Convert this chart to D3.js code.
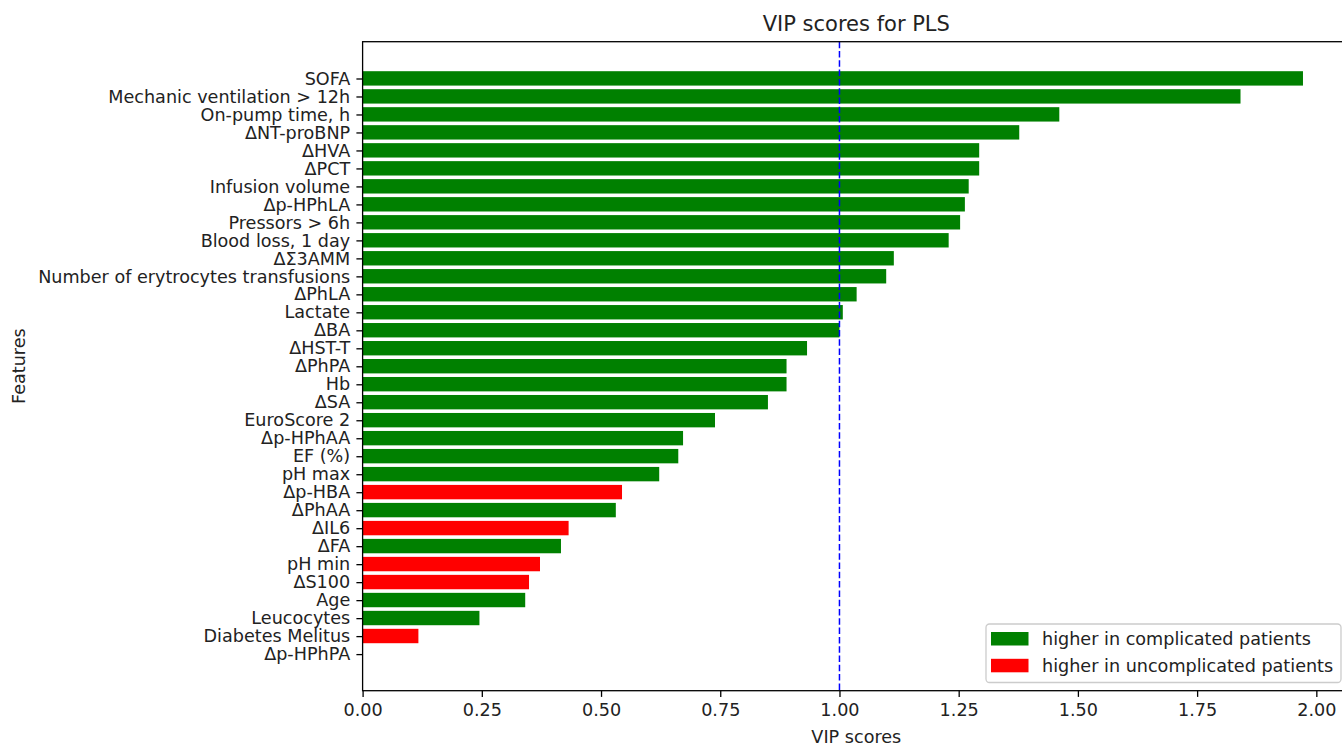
<!DOCTYPE html>
<html>
<head>
<meta charset="utf-8">
<script src="https://cdn.jsdelivr.net/npm/d3@7"></script>
<style>
  html, body { margin: 0; padding: 0; background: #fff; }
  svg { display: block; font-family: "DejaVu Sans", sans-serif; }
</style>
</head>
<body>
<svg id="chart" width="1342" height="745"></svg>
<script>
// ---- data (top to bottom as shown) ----
const features = [
  "SOFA", "Mechanic ventilation > 12h", "On-pump time, h", "ΔNT-proBNP", "ΔHVA", "ΔPCT",
  "Infusion volume", "Δp-HPhLA", "Pressors > 6h", "Blood loss, 1 day", "ΔΣ3AMM",
  "Number of erytrocytes transfusions", "ΔPhLA", "Lactate", "ΔBA", "ΔHST-T", "ΔPhPA", "Hb",
  "ΔSA", "EuroScore 2", "Δp-HPhAA", "EF (%)", "pH max", "Δp-HBA", "ΔPhAA", "ΔIL6", "ΔFA",
  "pH min", "ΔS100", "Age", "Leucocytes", "Diabetes Melitus", "Δp-HPhPA"
];
const vipScores = [
  1.972, 1.841, 1.461, 1.377, 1.293, 1.293,
  1.271, 1.263, 1.253, 1.229, 1.114,
  1.098, 1.036, 1.007, 1.000, 0.932, 0.889, 0.889,
  0.850, 0.739, 0.672, 0.662, 0.622, 0.544, 0.531, 0.432, 0.416,
  0.372, 0.349, 0.341, 0.245, 0.117, 0.0
];
// "C" = higher in complicated patients, "U" = higher in uncomplicated patients
const direction = [
  "C", "C", "C", "C", "C", "C",
  "C", "C", "C", "C", "C",
  "C", "C", "C", "C", "C", "C", "C",
  "C", "C", "C", "C", "C", "U", "C", "U", "C",
  "U", "U", "C", "C", "U", "C"
];
const xTicks = [0, 0.25, 0.5, 0.75, 1.0, 1.25, 1.5, 1.75, 2.0];
const threshold = 1.0;
const legendLabels = ["higher in complicated patients", "higher in uncomplicated patients"];
const legendKeys = ["C", "U"];
const titleText = "VIP scores for PLS";
const xLabelText = "VIP scores";
const yLabelText = "Features";

// ---- layout ----
const colors = { C: "#008000", U: "#ff0000" };
const axL = 362.6, axT = 41.7, axB = 690.7, axR = 1350;
const fs = 17.6;
const textColor = "#222";

const svg = d3.select("#chart");

const x = d3.scaleLinear()
  .domain([0, d3.max(vipScores) * 1.05])
  .range([axL, axR]);

const y = d3.scaleBand()
  .domain(features)
  .range([axT, axB])
  .paddingInner(0.2)
  .paddingOuter(1.64)
  .align(0.5);

// bars
svg.append("g")
  .selectAll("rect")
  .data(features)
  .join("rect")
  .attr("x", x(0))
  .attr("y", d => y(d))
  .attr("width", (d, i) => x(vipScores[i]) - x(0))
  .attr("height", y.bandwidth())
  .attr("fill", (d, i) => colors[direction[i]]);

// threshold line
svg.append("line")
  .attr("x1", x(threshold)).attr("x2", x(threshold))
  .attr("y1", axT).attr("y2", axB)
  .attr("stroke", "#0000ff")
  .attr("stroke-width", 1.5)
  .attr("stroke-dasharray", "6.5,2.8");

// frame
svg.append("rect")
  .attr("x", axL).attr("y", axT)
  .attr("width", axR - axL).attr("height", axB - axT)
  .attr("fill", "none")
  .attr("stroke", "#000")
  .attr("stroke-width", 1.3);

// axes
const yAxis = d3.axisLeft(y).tickSize(6.2).tickPadding(6.2);
const gy = svg.append("g").attr("transform", `translate(${axL},0.6)`).call(yAxis);
gy.select(".domain").remove();
gy.selectAll(".tick line").attr("stroke", "#000").attr("stroke-width", 1.3);
gy.selectAll(".tick text").attr("font-size", fs).attr("fill", textColor)
  .attr("font-family", "DejaVu Sans, sans-serif");

const xAxis = d3.axisBottom(x).tickValues(xTicks).tickFormat(d3.format(".2f"))
  .tickSize(6.2).tickPadding(6.2);
const gx = svg.append("g").attr("transform", `translate(0,${axB})`).call(xAxis);
gx.select(".domain").remove();
gx.selectAll(".tick line").attr("stroke", "#000").attr("stroke-width", 1.3);
gx.selectAll(".tick text").attr("font-size", fs).attr("fill", textColor)
  .attr("font-family", "DejaVu Sans, sans-serif");

// title & labels
svg.append("text")
  .attr("x", (axL + axR) / 2).attr("y", 31)
  .attr("text-anchor", "middle")
  .attr("font-size", 21).attr("fill", textColor)
  .text(titleText);

svg.append("text")
  .attr("x", (axL + axR) / 2).attr("y", 742.5)
  .attr("text-anchor", "middle")
  .attr("font-size", fs).attr("fill", textColor)
  .text(xLabelText);

svg.append("text")
  .attr("transform", `translate(24.5,${(axT + axB) / 2}) rotate(-90)`)
  .attr("text-anchor", "middle")
  .attr("font-size", fs).attr("fill", textColor)
  .text(yLabelText);

// legend
const lg = svg.append("g");
lg.append("rect")
  .attr("x", 986).attr("y", 624)
  .attr("width", 355).attr("height", 58.5)
  .attr("rx", 3.5).attr("ry", 3.5)
  .attr("fill", "#fff").attr("fill-opacity", 0.8)
  .attr("stroke", "#cccccc").attr("stroke-width", 1.3);
const rows = lg.selectAll("g.row")
  .data(legendKeys)
  .join("g")
  .attr("class", "row")
  .attr("transform", (d, i) => `translate(991,${632 + i * 26.8})`);
rows.append("rect")
  .attr("width", 37.5).attr("height", 13.5)
  .attr("fill", d => colors[d]);
rows.append("text")
  .attr("x", 51).attr("y", 6.8)
  .attr("dy", "0.35em")
  .attr("font-size", fs).attr("fill", textColor)
  .text((d, i) => legendLabels[i]);
</script>
</body>
</html>
